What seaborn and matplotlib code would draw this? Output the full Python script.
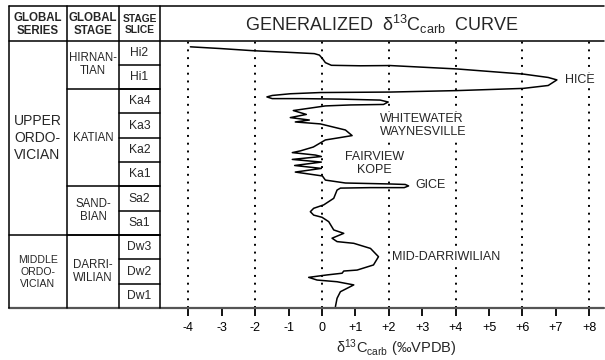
import matplotlib
matplotlib.use("Agg")
import matplotlib.pyplot as plt
import seaborn as sns
import pandas as pd
import numpy as np

# ---------------- data ----------------
series_names = ["UPPER\nORDO-\nVICIAN", "MIDDLE\nORDO-\nVICIAN"]
series_slices = [8, 3]
stage_names = ["HIRNAN-\nTIAN", "KATIAN", "SAND-\nBIAN", "DARRI-\nWILIAN"]
stage_slices = [2, 4, 2, 3]
slice_names = ["Hi2", "Hi1", "Ka4", "Ka3", "Ka2", "Ka1", "Sa2", "Sa1", "Dw3", "Dw2", "Dw1"]

# generalized d13C curve (permil), from top to bottom; level in stage-slice units above base of Dw1
d13c = [-3.94, -3.05, -2.06, -0.95, -0.23, -0.08, 0.01, 0.10, 0.28, 1.15, 2.04, 4.04, 6.02, 6.77, 7.03,
        6.77, 6.02, 4.04, 2.04, -0.05, -0.95, -1.49, -1.65, -1.49, -0.65, 0.55, 1.74, 1.98, 1.84, 0.85,
        0.10, -0.86, -0.47, -0.95, -0.38, -0.80, -0.05, 0.70, 0.90, 0.55, 0.10, -0.26, -0.65, -0.89,
        -0.20, -0.02, -0.89, -0.02, -0.82, -0.02, -0.80, 0.01, 0.10, 0.70, 2.04, 2.49, 2.59, 2.46, 1.45,
        0.55, 0.45, 0.35, 0.05, -0.25, -0.35, -0.25, 0.00, 0.20, 0.35, 0.65, 0.30, 0.45, 0.95, 1.45,
        1.69, 1.54, 1.05, 0.65, 0.60, 0.15, -0.40, -0.15, 0.45, 0.95, 0.75, 0.55, 0.45, 0.40]
level = [10.74, 10.67, 10.58, 10.51, 10.46, 10.40, 10.26, 10.09, 9.98, 9.96, 9.97, 9.83, 9.62, 9.48, 9.38,
         9.15, 9.03, 8.94, 8.88, 8.86, 8.81, 8.74, 8.68, 8.61, 8.61, 8.59, 8.55, 8.47, 8.37, 8.35,
         8.31, 8.12, 7.96, 7.83, 7.73, 7.65, 7.57, 7.32, 7.09, 7.01, 6.91, 6.62, 6.46, 6.39,
         6.29, 6.23, 6.11, 6.00, 5.86, 5.74, 5.59, 5.43, 5.26, 5.14, 5.10, 5.08, 5.02, 4.95, 4.95,
         4.93, 4.85, 4.51, 4.24, 4.10, 3.96, 3.82, 3.73, 3.55, 3.21, 3.07, 2.87, 2.73, 2.66, 2.45,
         2.11, 1.77, 1.56, 1.52, 1.43, 1.36, 1.26, 1.15, 1.08, 0.95, 0.81, 0.67, 0.40, 0.05]

event_names = ["HICE", "WHITEWATER\nWAYNESVILLE", "FAIRVIEW\nKOPE", "GICE", "MID-DARRIWILIAN"]
event_x = [7.28, 1.74, 1.56, 2.79, 2.09]
event_level = [9.38, 7.51, 5.95, 5.06, 2.08]
event_ha = ["left", "left", "center", "left", "left"]

major_ticks = [-4, -2, 0, 2, 4, 6, 8]
minor_ticks = [-3, -1, 1, 3, 5, 7]

# ---------------- style ----------------
sns.set_theme(style="white")
plt.rcParams["font.family"] = ["Liberation Sans", "DejaVu Sans"]
plt.rcParams["mathtext.fontset"] = "custom"
plt.rcParams["mathtext.rm"] = "Liberation Sans"
plt.rcParams["mathtext.it"] = "Liberation Sans:italic"

W, H = 605, 360
fig = plt.figure(figsize=(W / 100, H / 100), dpi=100)

# layout (pixels)
X0, X1, X2, X3, XR = 9, 67, 119, 160, 604
YT, YH, YB = 6, 40.5, 308
n_rows = len(slice_names)

ax = fig.add_axes([X3 / W, 1 - YB / H, (XR - X3) / W, (YB - YH) / H])
ax.patch.set_alpha(0)
df = pd.DataFrame({"d13c": d13c, "level": level})
sns.lineplot(data=df, x="d13c", y="level", sort=False, estimator=None, color="black",
             linewidth=1.1, ax=ax)
ax.set_xlim(-4.85, 8.44)
ax.set_ylim(0, n_rows)
ax.set_xticks(major_ticks)
ax.set_xticks(minor_ticks, minor=True)
fmt = lambda v: ("+%d" % v) if v > 0 else ("%d" % v)
ax.set_xticklabels([fmt(v) for v in major_ticks])
ax.set_xticklabels([fmt(v) for v in minor_ticks], minor=True)
ax.set_yticks([])
for w in ["major", "minor"]:
    ax.tick_params(axis="x", which=w, direction="out", length=6, width=1.3, color="black",
                   labelsize=9, pad=4, bottom=True, labelcolor="black")
ax.grid(axis="x", which="major", color="black", linestyle=(0, (1, 3)), linewidth=1.4)
ax.grid(axis="y", visible=False)
for s in ax.spines.values():
    s.set_visible(False)
ax.set_xlabel("")
ax.set_ylabel("")

for name, xv, lv, ha in zip(event_names, event_x, event_level, event_ha):
    ax.text(xv, lv, name, ha=ha, va="center", fontsize=9, multialignment=ha, linespacing=1.05,
            zorder=5, bbox=dict(facecolor="white", edgecolor="none", pad=0.5))

# overlay for frame and table
ov = fig.add_axes([0, 0, 1, 1])
ov.set_xlim(0, W)
ov.set_ylim(H, 0)
ov.axis("off")
ov.patch.set_alpha(0)
lw = 1.1
ov.plot([X0, XR], [YT, YT], color="black", lw=lw)
ov.plot([X0, XR], [YH, YH], color="black", lw=lw)
ov.plot([X0, XR], [YB, YB], color="#555555", lw=1.6)
for xx in [X0, X1, X2, X3]:
    ov.plot([xx, xx], [YT, YB], color="black", lw=lw)
rh = (YB - YH) / n_rows
for i in range(1, n_rows):
    ov.plot([X2, X3], [YH + i * rh] * 2, color="black", lw=lw)
cum = np.cumsum(stage_slices)
for c in cum[:-1]:
    ov.plot([X1, X3], [YH + c * rh] * 2, color="black", lw=lw)
cum_s = np.cumsum(series_slices)
for c in cum_s[:-1]:
    ov.plot([X0, X3], [YH + c * rh] * 2, color="black", lw=lw)

# header texts
ov.text((X0 + X1) / 2, (YT + YH) / 2 + 1, "GLOBAL\nSERIES", ha="center", va="center",
        fontsize=8.3, fontweight="bold", linespacing=1.15)
ov.text((X1 + X2) / 2, (YT + YH) / 2 + 1, "GLOBAL\nSTAGE", ha="center", va="center",
        fontsize=8.3, fontweight="bold", linespacing=1.15)
ov.text((X2 + X3) / 2, (YT + YH) / 2 + 1, "STAGE\nSLICE", ha="center", va="center",
        fontsize=7.4, fontweight="bold", linespacing=1.15)
ov.text((X3 + XR) / 2, (YT + YH) / 2 + 1,
        r"GENERALIZED  δ$^{13}$C$_{\mathrm{carb}}$  CURVE", ha="center", va="center", fontsize=13)

for i, nm in enumerate(slice_names):
    ov.text((X2 + X3) / 2, YH + (i + 0.5) * rh, nm, ha="center", va="center", fontsize=8.7)
start = 0
for nm, n in zip(stage_names, stage_slices):
    ov.text((X1 + X2) / 2, YH + (start + n / 2) * rh, nm, ha="center", va="center",
            fontsize=8.3, linespacing=1.1)
    start += n
start = 0
for nm, n, fs, ma in zip(series_names, series_slices, [10, 7.6], ["left", "center"]):
    ov.text((X0 + X1) / 2, YH + (start + n / 2) * rh, nm, ha="center", va="center",
            fontsize=fs, linespacing=1.25, multialignment=ma)
    start += n

ov.text(396, 348, r"δ$^{13}$C$_{\mathrm{carb}}$ (‰VPDB)", ha="center", va="center", fontsize=10.5)

fig.savefig("out.png", dpi=100)
